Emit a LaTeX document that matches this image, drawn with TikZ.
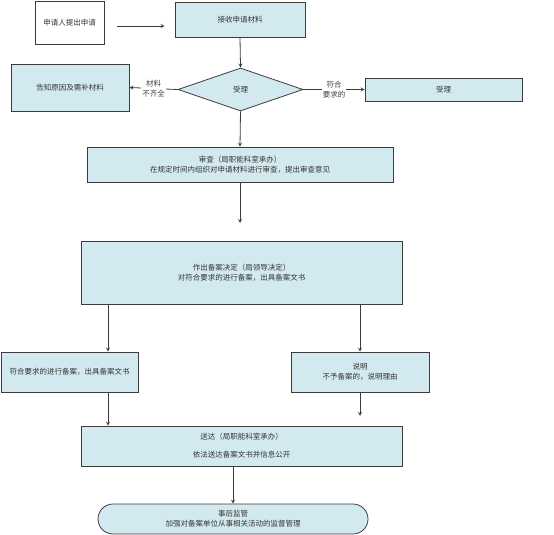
\documentclass[tikz,border=0pt]{standalone}
\usepackage{fontspec}
\setmainfont{Noto Sans CJK SC}
\usetikzlibrary{shapes.geometric}
\definecolor{boxblue}{RGB}{211,233,240}
\definecolor{edge}{RGB}{60,60,60}
\begin{document}
\begin{tikzpicture}[x=1pt,y=-1pt,
        box/.style={draw=edge,line width=0.8pt,fill=boxblue,align=center,inner sep=1pt,
                font=\fontsize{7.5}{10}\selectfont,text=black!80},
        arr/.style={draw=edge,line width=0.8pt,-stealth},
        lbl/.style={fill=white,align=center,inner sep=1pt,font=\fontsize{7.5}{9.5}\selectfont,text=black!75}]
        \useasboundingbox (0,0) rectangle (554,535);
        \node[box,fill=white,minimum width=69pt,minimum height=43pt] (apply) at (69.5,22.5) {申请人提出申请};
        \node[box,minimum width=130pt,minimum height=35pt] (receive) at (240,19.5) {接收申请材料};
        \node[box,diamond,minimum width=125pt,minimum height=43pt,inner sep=0pt] (accept) at (240.5,89.5) {受理};
        \node[box,minimum width=118pt,minimum height=47pt] (notify) at (70,87.5) {告知原因及需补材料};
        \node[box,minimum width=157pt,minimum height=23pt] (ok) at (443.5,89.5) {受理};
        \node[box,minimum width=306pt,minimum height=35pt] (review) at (240,164.5) {审查（局职能科室承办）\\在规定时间内组织对申请材料进行审查，提出审查意见};
        \node[box,minimum width=321pt,minimum height=63pt] (decide) at (241.5,272.5) {作出备案决定（局领导决定）\\对符合要求的进行备案，出具备案文书};
        \node[box,minimum width=137pt,minimum height=40pt] (file) at (69.5,372) {符合要求的进行备案，出具备案文书};
        \node[box,minimum width=138pt,minimum height=40pt] (explain) at (360,372) {说明\\不予备案的，说明理由};
        \node[box,minimum width=321pt,minimum height=40pt] (deliver) at (241.5,446) {送达（局职能科室承办）\\[8pt]依法送达备案文书并信息公开};
        \node[box,rounded corners=15pt,minimum width=270pt,minimum height=30pt] (supervise) at (233,519) {事后监管\\加强对备案单位从事相关活动的监督管理};
        \coordinate (lx) at (108,0);
        \coordinate (reviewend) at (240,223);
        \coordinate (explainend) at (360,416);
        \draw[arr,shorten <=13pt,shorten >=10pt] ([yshift=-3.5pt]apply.east) -- ([yshift=-3.5pt]apply.east -| receive.west);
        \draw[arr] (receive.south) -- (accept.north);
        \draw[arr] (accept.west) -- node[lbl] (lblmiss) {材料\\不齐全} (notify.east);
        \draw[arr] (accept.east) -- node[lbl] (lblfit) {符合\\要求的} (ok.west);
        \draw[arr] (accept.south) -- (review.north);
        \draw[arr] (review.south) -- (reviewend);
        \draw[arr] (decide.south -| lx) -- (file.north -| lx);
        \draw[arr] (decide.south -| explain.north) -- (explain.north);
        \draw[arr] (file.south -| lx) -- (deliver.north -| lx);
        \draw[arr] (explain.south) -- (explainend);
        \draw[arr] (deliver.south -| supervise.north) -- (supervise.north);
\end{tikzpicture}
\end{document}
